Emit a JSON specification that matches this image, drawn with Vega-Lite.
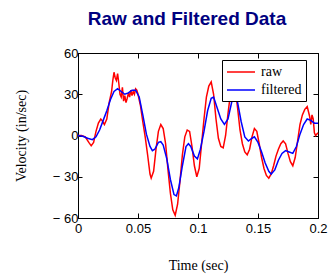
{
  "$schema": "https://vega.github.io/schema/vega-lite/v6.json",
  "width": 240,
  "height": 165,
  "autosize": {"type": "none"},
  "padding": {"left": 78, "top": 53, "right": 10, "bottom": 56},
  "background": "white",
  "title": {
    "text": "Raw and Filtered Data",
    "font": "Liberation Sans, Arial, sans-serif",
    "fontSize": 19,
    "fontWeight": "bold",
    "color": "#000080",
    "anchor": "middle",
    "frame": "group",
    "baseline": "bottom",
    "offset": -1,
    "dx": -11
  },
  "config": {
    "view": {"stroke": "black", "strokeWidth": 1},
    "axis": {
      "grid": false,
      "domainColor": "black",
      "tickColor": "black",
      "labelColor": "black",
      "titleColor": "black",
      "labelFont": "Liberation Sans, Arial, sans-serif",
      "labelFontSize": 13,
      "titleFont": "Liberation Serif, Times New Roman, serif",
      "titleFontSize": 14,
      "titleFontWeight": "normal"
    },
    "legend": {
      "labelFont": "Liberation Serif, Times New Roman, serif",
      "labelFontSize": 14,
      "labelColor": "black"
    }
  },
  "data": {
    "values": [
      {"t": 0.000, "v": 0, "s": "raw"},
      {"t": 0.003, "v": 0, "s": "raw"},
      {"t": 0.006, "v": -1, "s": "raw"},
      {"t": 0.009, "v": -5, "s": "raw"},
      {"t": 0.011, "v": -7.5, "s": "raw"},
      {"t": 0.013, "v": -5, "s": "raw"},
      {"t": 0.015, "v": 3, "s": "raw"},
      {"t": 0.017, "v": 9, "s": "raw"},
      {"t": 0.019, "v": 12, "s": "raw"},
      {"t": 0.020, "v": 11, "s": "raw"},
      {"t": 0.022, "v": 8, "s": "raw"},
      {"t": 0.024, "v": 12, "s": "raw"},
      {"t": 0.026, "v": 24, "s": "raw"},
      {"t": 0.028, "v": 32, "s": "raw"},
      {"t": 0.029, "v": 40, "s": "raw"},
      {"t": 0.030, "v": 46, "s": "raw"},
      {"t": 0.031, "v": 42, "s": "raw"},
      {"t": 0.032, "v": 40, "s": "raw"},
      {"t": 0.033, "v": 45, "s": "raw"},
      {"t": 0.034, "v": 38, "s": "raw"},
      {"t": 0.035, "v": 30, "s": "raw"},
      {"t": 0.036, "v": 28, "s": "raw"},
      {"t": 0.037, "v": 35, "s": "raw"},
      {"t": 0.038, "v": 25, "s": "raw"},
      {"t": 0.039, "v": 29, "s": "raw"},
      {"t": 0.040, "v": 24, "s": "raw"},
      {"t": 0.041, "v": 27, "s": "raw"},
      {"t": 0.042, "v": 31, "s": "raw"},
      {"t": 0.043, "v": 28, "s": "raw"},
      {"t": 0.044, "v": 33, "s": "raw"},
      {"t": 0.045, "v": 29, "s": "raw"},
      {"t": 0.046, "v": 32, "s": "raw"},
      {"t": 0.047, "v": 30, "s": "raw"},
      {"t": 0.048, "v": 34, "s": "raw"},
      {"t": 0.049, "v": 33, "s": "raw"},
      {"t": 0.050, "v": 30, "s": "raw"},
      {"t": 0.052, "v": 22, "s": "raw"},
      {"t": 0.054, "v": 10, "s": "raw"},
      {"t": 0.056, "v": -1, "s": "raw"},
      {"t": 0.058, "v": -14, "s": "raw"},
      {"t": 0.060, "v": -28, "s": "raw"},
      {"t": 0.061, "v": -31, "s": "raw"},
      {"t": 0.063, "v": -26, "s": "raw"},
      {"t": 0.065, "v": -10, "s": "raw"},
      {"t": 0.067, "v": 3, "s": "raw"},
      {"t": 0.069, "v": 8, "s": "raw"},
      {"t": 0.071, "v": 5, "s": "raw"},
      {"t": 0.073, "v": -6, "s": "raw"},
      {"t": 0.075, "v": -25, "s": "raw"},
      {"t": 0.077, "v": -42, "s": "raw"},
      {"t": 0.079, "v": -54, "s": "raw"},
      {"t": 0.081, "v": -58, "s": "raw"},
      {"t": 0.083, "v": -50, "s": "raw"},
      {"t": 0.085, "v": -33, "s": "raw"},
      {"t": 0.087, "v": -14, "s": "raw"},
      {"t": 0.089, "v": -1, "s": "raw"},
      {"t": 0.091, "v": 4, "s": "raw"},
      {"t": 0.093, "v": 3, "s": "raw"},
      {"t": 0.095, "v": -8, "s": "raw"},
      {"t": 0.097, "v": -22, "s": "raw"},
      {"t": 0.099, "v": -30, "s": "raw"},
      {"t": 0.101, "v": -24, "s": "raw"},
      {"t": 0.103, "v": -6, "s": "raw"},
      {"t": 0.105, "v": 12, "s": "raw"},
      {"t": 0.107, "v": 28, "s": "raw"},
      {"t": 0.109, "v": 36, "s": "raw"},
      {"t": 0.111, "v": 39, "s": "raw"},
      {"t": 0.113, "v": 30, "s": "raw"},
      {"t": 0.115, "v": 12, "s": "raw"},
      {"t": 0.117, "v": -2, "s": "raw"},
      {"t": 0.119, "v": -8, "s": "raw"},
      {"t": 0.121, "v": -9, "s": "raw"},
      {"t": 0.123, "v": 0, "s": "raw"},
      {"t": 0.125, "v": 16, "s": "raw"},
      {"t": 0.127, "v": 30, "s": "raw"},
      {"t": 0.129, "v": 36, "s": "raw"},
      {"t": 0.131, "v": 34, "s": "raw"},
      {"t": 0.133, "v": 20, "s": "raw"},
      {"t": 0.135, "v": 4, "s": "raw"},
      {"t": 0.137, "v": -6, "s": "raw"},
      {"t": 0.139, "v": -12, "s": "raw"},
      {"t": 0.141, "v": -14, "s": "raw"},
      {"t": 0.143, "v": -10, "s": "raw"},
      {"t": 0.145, "v": -1, "s": "raw"},
      {"t": 0.147, "v": 5, "s": "raw"},
      {"t": 0.149, "v": 3, "s": "raw"},
      {"t": 0.151, "v": -6, "s": "raw"},
      {"t": 0.153, "v": -16, "s": "raw"},
      {"t": 0.155, "v": -24, "s": "raw"},
      {"t": 0.157, "v": -29, "s": "raw"},
      {"t": 0.159, "v": -31, "s": "raw"},
      {"t": 0.161, "v": -28, "s": "raw"},
      {"t": 0.163, "v": -22, "s": "raw"},
      {"t": 0.165, "v": -15, "s": "raw"},
      {"t": 0.167, "v": -10, "s": "raw"},
      {"t": 0.169, "v": -6, "s": "raw"},
      {"t": 0.171, "v": -4, "s": "raw"},
      {"t": 0.173, "v": -6, "s": "raw"},
      {"t": 0.175, "v": -13, "s": "raw"},
      {"t": 0.177, "v": -19, "s": "raw"},
      {"t": 0.179, "v": -22, "s": "raw"},
      {"t": 0.181, "v": -16, "s": "raw"},
      {"t": 0.183, "v": -4, "s": "raw"},
      {"t": 0.185, "v": 8, "s": "raw"},
      {"t": 0.187, "v": 15, "s": "raw"},
      {"t": 0.189, "v": 19, "s": "raw"},
      {"t": 0.191, "v": 21, "s": "raw"},
      {"t": 0.193, "v": 14, "s": "raw"},
      {"t": 0.194, "v": 8, "s": "raw"},
      {"t": 0.195, "v": 15, "s": "raw"},
      {"t": 0.196, "v": 12, "s": "raw"},
      {"t": 0.197, "v": 2, "s": "raw"},
      {"t": 0.198, "v": 0, "s": "raw"},
      {"t": 0.200, "v": 2, "s": "raw"},
      {"t": 0.000, "v": 0, "s": "filtered"},
      {"t": 0.004, "v": -0.5, "s": "filtered"},
      {"t": 0.008, "v": -2, "s": "filtered"},
      {"t": 0.012, "v": -3, "s": "filtered"},
      {"t": 0.015, "v": -1, "s": "filtered"},
      {"t": 0.018, "v": 4, "s": "filtered"},
      {"t": 0.021, "v": 11, "s": "filtered"},
      {"t": 0.024, "v": 18, "s": "filtered"},
      {"t": 0.027, "v": 26, "s": "filtered"},
      {"t": 0.030, "v": 32, "s": "filtered"},
      {"t": 0.033, "v": 34, "s": "filtered"},
      {"t": 0.036, "v": 32, "s": "filtered"},
      {"t": 0.039, "v": 30, "s": "filtered"},
      {"t": 0.042, "v": 31, "s": "filtered"},
      {"t": 0.045, "v": 33, "s": "filtered"},
      {"t": 0.048, "v": 33, "s": "filtered"},
      {"t": 0.051, "v": 28, "s": "filtered"},
      {"t": 0.054, "v": 15, "s": "filtered"},
      {"t": 0.057, "v": 1, "s": "filtered"},
      {"t": 0.060, "v": -8, "s": "filtered"},
      {"t": 0.062, "v": -11, "s": "filtered"},
      {"t": 0.064, "v": -10, "s": "filtered"},
      {"t": 0.067, "v": -5, "s": "filtered"},
      {"t": 0.069, "v": -4.5, "s": "filtered"},
      {"t": 0.071, "v": -7, "s": "filtered"},
      {"t": 0.074, "v": -17, "s": "filtered"},
      {"t": 0.077, "v": -32, "s": "filtered"},
      {"t": 0.080, "v": -43, "s": "filtered"},
      {"t": 0.082, "v": -44, "s": "filtered"},
      {"t": 0.084, "v": -38, "s": "filtered"},
      {"t": 0.087, "v": -22, "s": "filtered"},
      {"t": 0.090, "v": -8, "s": "filtered"},
      {"t": 0.092, "v": -6, "s": "filtered"},
      {"t": 0.094, "v": -8, "s": "filtered"},
      {"t": 0.097, "v": -15, "s": "filtered"},
      {"t": 0.0995, "v": -17, "s": "filtered"},
      {"t": 0.102, "v": -10, "s": "filtered"},
      {"t": 0.105, "v": 3, "s": "filtered"},
      {"t": 0.108, "v": 18, "s": "filtered"},
      {"t": 0.111, "v": 27, "s": "filtered"},
      {"t": 0.113, "v": 28, "s": "filtered"},
      {"t": 0.116, "v": 20, "s": "filtered"},
      {"t": 0.119, "v": 12, "s": "filtered"},
      {"t": 0.122, "v": 8, "s": "filtered"},
      {"t": 0.125, "v": 12, "s": "filtered"},
      {"t": 0.128, "v": 24, "s": "filtered"},
      {"t": 0.130, "v": 29, "s": "filtered"},
      {"t": 0.133, "v": 24, "s": "filtered"},
      {"t": 0.136, "v": 10, "s": "filtered"},
      {"t": 0.139, "v": -1, "s": "filtered"},
      {"t": 0.142, "v": -4, "s": "filtered"},
      {"t": 0.145, "v": -2, "s": "filtered"},
      {"t": 0.147, "v": -1, "s": "filtered"},
      {"t": 0.150, "v": -5, "s": "filtered"},
      {"t": 0.153, "v": -12, "s": "filtered"},
      {"t": 0.156, "v": -20, "s": "filtered"},
      {"t": 0.159, "v": -26, "s": "filtered"},
      {"t": 0.161, "v": -28, "s": "filtered"},
      {"t": 0.164, "v": -25, "s": "filtered"},
      {"t": 0.167, "v": -18, "s": "filtered"},
      {"t": 0.170, "v": -13, "s": "filtered"},
      {"t": 0.173, "v": -11, "s": "filtered"},
      {"t": 0.176, "v": -12, "s": "filtered"},
      {"t": 0.179, "v": -13, "s": "filtered"},
      {"t": 0.182, "v": -8, "s": "filtered"},
      {"t": 0.185, "v": 1, "s": "filtered"},
      {"t": 0.188, "v": 8, "s": "filtered"},
      {"t": 0.191, "v": 12, "s": "filtered"},
      {"t": 0.194, "v": 11, "s": "filtered"},
      {"t": 0.197, "v": 9, "s": "filtered"},
      {"t": 0.200, "v": 9, "s": "filtered"}
    ]
  },
  "layer": [
    {
      "transform": [{"filter": "datum.s === 'raw'"}],
      "mark": {"type": "line", "strokeWidth": 1.5},
      "encoding": {
        "x": {
          "field": "t", "type": "quantitative",
          "scale": {"domain": [0, 0.2], "nice": false},
          "axis": {
            "orient": "bottom", "title": "Time (sec)",
            "values": [0, 0.05, 0.1, 0.15, 0.2], "format": "~g",
            "tickSize": -5, "labelPadding": 9, "titlePadding": 23,
            "labelOverlap": false, "labelBound": false, "labelFlush": false
          }
        },
        "y": {
          "field": "v", "type": "quantitative",
          "scale": {"domain": [-60, 60], "nice": false},
          "axis": {
            "orient": "left", "title": "Velocity (in/sec)",
            "values": [-60, -30, 0, 30, 60],
            "labelExpr": "datum.value < 0 ? '− ' + format(-datum.value, 'd') : datum.label",
            "tickSize": -4, "labelPadding": 4, "titlePadding": 24,
            "labelOverlap": false, "labelBound": false, "labelFlush": false
          }
        },
        "color": {
          "field": "s", "type": "nominal",
          "scale": {"domain": ["raw", "filtered"], "range": ["#ff0000", "#0000ff"]},
          "legend": {
            "title": null,
            "orient": "none",
            "legendX": 144,
            "legendY": 7,
            "strokeColor": "black",
            "fillColor": "white",
            "padding": 4,
            "symbolType": "M-2,0H2",
            "symbolSize": 196,
            "symbolOffset": 7,
            "symbolStrokeWidth": 1.5,
            "labelFont": "Liberation Serif, Times New Roman, serif",
            "labelFontSize": 14,
            "labelColor": "black",
            "labelOffset": 12,
            "rowPadding": 3
          }
        }
      }
    },
    {
      "transform": [{"filter": "datum.s === 'filtered'"}],
      "mark": {"type": "line", "strokeWidth": 1.5},
      "encoding": {
        "x": {
          "field": "t", "type": "quantitative",
          "axis": {
            "orient": "top", "title": null, "labels": false,
            "values": [0, 0.05, 0.1, 0.15, 0.2], "tickSize": -5
          }
        },
        "y": {
          "field": "v", "type": "quantitative",
          "axis": {
            "orient": "right", "title": null, "labels": false,
            "values": [-60, -30, 0, 30, 60], "tickSize": -5
          }
        },
        "color": {"field": "s", "type": "nominal"}
      }
    }
  ],
  "resolve": {"axis": {"x": "independent", "y": "independent"}}
}
